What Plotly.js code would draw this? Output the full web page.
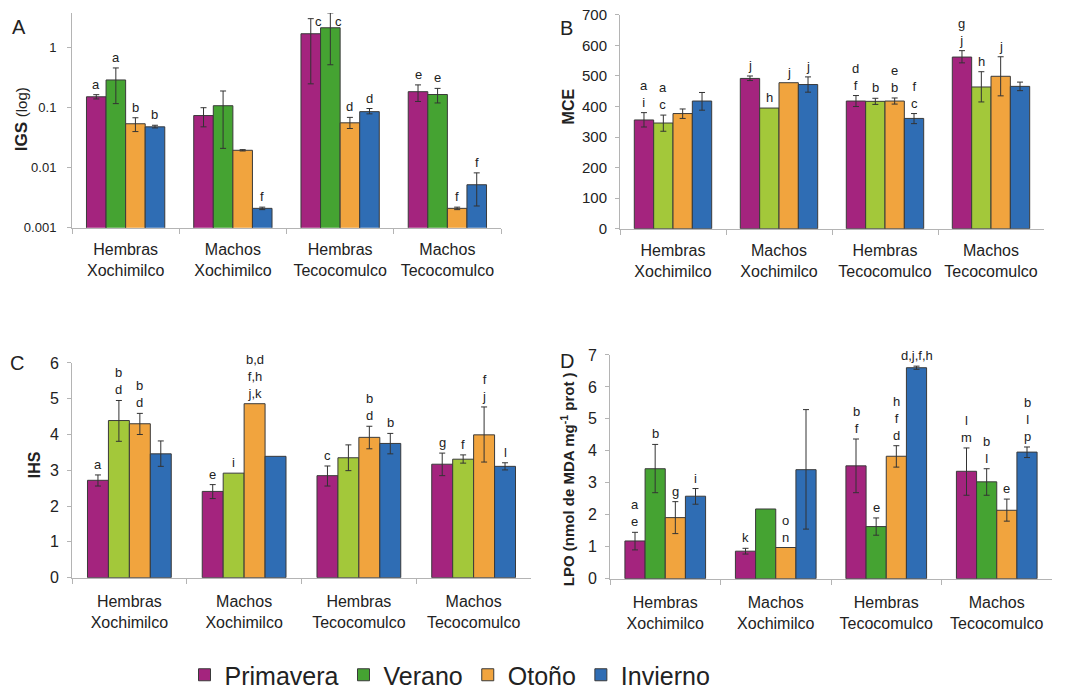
<!DOCTYPE html>
<html><head><meta charset="utf-8">
<script src="https://cdn.plot.ly/plotly-3.0.1.min.js"></script>
<style>html,body{margin:0;padding:0;background:#fff}#chart{width:1067px;height:698px}</style>
</head><body><div id="chart"></div>
<script>
const categories = ['Hembras<br>Xochimilco', 'Machos<br>Xochimilco', 'Hembras<br>Tecocomulco', 'Machos<br>Tecocomulco'];
const seasons = ['Primavera', 'Verano', 'Otoño', 'Invierno'];

// Panel A – IGS (log)
const igsPrimavera   = [0.152, 0.074, 1.71, 0.185];
const igsPrimaveraHi = [0.165, 0.100, 3.05, 0.240];
const igsPrimaveraLo = [0.140, 0.048, 0.25, 0.127];
const igsVerano      = [0.29, 0.108, 2.15, 0.166];
const igsVeranoHi    = [0.46, 0.19, 3.8, 0.21];
const igsVeranoLo    = [0.117, 0.021, 0.52, 0.12];
const igsOtono       = [0.054, 0.0195, 0.056, 0.0021];
const igsOtonoHi     = [0.068, 0.0200, 0.069, 0.0022];
const igsOtonoLo     = [0.040, 0.0190, 0.045, 0.0020];
const igsInvierno    = [0.048, 0.0021, 0.086, 0.0052];
const igsInviernoHi  = [0.051, 0.0022, 0.097, 0.0082];
const igsInviernoLo  = [0.046, 0.0020, 0.079, 0.0023];
const igsLetPrimavera = ['a', '', 'c', 'e'];
const igsLetVerano    = ['a', '', 'c', 'e'];
const igsLetOtono     = ['b', '', 'd', 'f'];
const igsLetInvierno  = ['b', 'f', 'd', 'f'];
const igsTicks = [0.001, 0.01, 0.1, 1];
const igsTickText = ['0.001', '0.01', '0.1', '1'];

// Panel B – MCE
const mcePrimavera   = [356, 492, 418, 562];
const mcePrimaveraHi = [380, 500, 436, 583];
const mcePrimaveraLo = [333, 485, 400, 543];
const mceVerano      = [346, 395, 417, 464];
const mceVeranoHi    = [372, null, 427, 514];
const mceVeranoLo    = [319, null, 407, 415];
const mceOtono       = [377, 478, 418, 499];
const mceOtonoHi     = [392, null, 428, 563];
const mceOtonoLo     = [361, null, 408, 435];
const mceInvierno    = [418, 472, 361, 466];
const mceInviernoHi  = [446, 497, 377, 480];
const mceInviernoLo  = [388, 447, 344, 452];
const mceLetPrimavera = ['a<br>i', 'j', 'd<br>f', 'g<br>j'];
const mceLetVerano    = ['a<br>c', 'h', 'b', 'h'];
const mceLetOtono     = ['', 'j', 'e<br>b', 'j'];
const mceLetInvierno  = ['', 'j', 'f<br>c', ''];

// Panel C – IHS
const ihsPrimavera   = [2.72, 2.41, 2.85, 3.17];
const ihsPrimaveraHi = [2.87, 2.60, 3.12, 3.48];
const ihsPrimaveraLo = [2.56, 2.21, 2.56, 2.85];
const ihsVerano      = [4.39, 2.92, 3.35, 3.31];
const ihsVeranoHi    = [4.95, null, 3.71, 3.43];
const ihsVeranoLo    = [3.81, null, 2.99, 3.20];
const ihsOtono       = [4.30, 4.86, 3.92, 3.99];
const ihsOtonoHi     = [4.59, null, 4.23, 4.77];
const ihsOtonoLo     = [4.00, null, 3.60, 3.23];
const ihsInvierno    = [3.46, 3.39, 3.75, 3.11];
const ihsInviernoHi  = [3.82, null, 4.03, 3.21];
const ihsInviernoLo  = [3.11, null, 3.46, 3.01];
const ihsLetPrimavera = ['a', 'e', 'c', 'g'];
const ihsLetVerano    = ['b<br>d', 'i', '', 'f'];
const ihsLetOtono     = ['b<br>d', 'b,d<br>f,h<br>j,k', 'b<br>d', 'f<br>j'];
const ihsLetInvierno  = ['', '', 'b', 'l'];

// Panel D – LPO
const lpoPrimavera   = [1.18, 0.86, 3.53, 3.36];
const lpoPrimaveraHi = [1.45, 0.95, 4.37, 4.09];
const lpoPrimaveraLo = [0.90, 0.77, 2.69, 2.61];
const lpoVerano      = [3.44, 2.18, 1.63, 3.03];
const lpoVeranoHi    = [4.20, null, 1.90, 3.44];
const lpoVeranoLo    = [2.69, null, 1.36, 2.61];
const lpoOtono       = [1.91, 0.975, 3.83, 2.14];
const lpoOtonoHi     = [2.41, null, 4.16, 2.49];
const lpoOtonoLo     = [1.41, null, 3.49, 1.80];
const lpoInvierno    = [2.58, 3.41, 6.60, 3.96];
const lpoInviernoHi  = [2.82, 5.29, 6.65, 4.12];
const lpoInviernoLo  = [2.33, 1.55, 6.55, 3.79];
const lpoLetPrimavera = ['a<br>e', 'k', 'b<br>f', 'l<br>m'];
const lpoLetVerano    = ['b', '', 'e', 'b<br>l'];
const lpoLetOtono     = ['g', 'o<br>n', 'h<br>f<br>d', 'e'];
const lpoLetInvierno  = ['i', '', 'd,j,f,h', 'b<br>l<br>p'];

// ---------- styling ----------
const FONT = 'Liberation Sans, Arial, sans-serif';
const TXT = '#222';
const AXC = '#b4b4b4';
const colMagenta = '#a4247e';
const colGreen = '#45a332';
const colLightGreen = '#a3c83a';
const colOrange = '#f1a43e';
const colBlue = '#2f6db4';
const BARGAP = 0.27;
const IGS_TOP = 0.58; // log10 of the top of panel A's axis

const traces = [];
const annotations = [];

function addPanel(series, colors, xa, ya, isLog, showLegend) {
  const n = series.length;
  const groupW = 1 - BARGAP;
  series.forEach((s, i) => {
    const plus = s.v.map((v, k) => s.hi[k] == null ? NaN : s.hi[k] - v);
    const minus = s.v.map((v, k) => s.lo[k] == null ? NaN : v - s.lo[k]);
    traces.push({
      type: 'bar', name: seasons[i], x: categories, y: s.v,
      xaxis: xa, yaxis: ya, showlegend: showLegend, legendgroup: seasons[i],
      marker: {color: colors[i], line: {color: '#3a3a3a', width: 1}},
      error_y: {type: 'data', symmetric: false, array: plus, arrayminus: minus,
                color: '#333', thickness: 1, width: 3},
      hoverinfo: 'x+y+name'
    });
    const off = -groupW / 2 + (i + 0.5) * groupW / n;
    s.let.forEach((t, k) => {
      if (!t) return;
      const top = Math.max(s.v[k], s.hi[k] == null ? s.v[k] : s.hi[k]);
      let y = isLog ? Math.log10(top) : top;
      const ann = {
        xref: xa, yref: ya, x: k + off, y: y,
        text: t, showarrow: false, yanchor: 'bottom', xanchor: 'center', yshift: 1,
        font: {family: FONT, size: 13, color: TXT}
      };
      if (isLog && y > IGS_TOP - 0.25) {
        // no room above the error bar: put the letter beside its top
        ann.y = IGS_TOP; ann.yanchor = 'top'; ann.yshift = 1; ann.xshift = 8;
      }
      annotations.push(ann);
    });
  });
}

addPanel([
  {v: igsPrimavera, hi: igsPrimaveraHi, lo: igsPrimaveraLo, let: igsLetPrimavera},
  {v: igsVerano, hi: igsVeranoHi, lo: igsVeranoLo, let: igsLetVerano},
  {v: igsOtono, hi: igsOtonoHi, lo: igsOtonoLo, let: igsLetOtono},
  {v: igsInvierno, hi: igsInviernoHi, lo: igsInviernoLo, let: igsLetInvierno}
], [colMagenta, colGreen, colOrange, colBlue], 'x', 'y', true, true);

addPanel([
  {v: mcePrimavera, hi: mcePrimaveraHi, lo: mcePrimaveraLo, let: mceLetPrimavera},
  {v: mceVerano, hi: mceVeranoHi, lo: mceVeranoLo, let: mceLetVerano},
  {v: mceOtono, hi: mceOtonoHi, lo: mceOtonoLo, let: mceLetOtono},
  {v: mceInvierno, hi: mceInviernoHi, lo: mceInviernoLo, let: mceLetInvierno}
], [colMagenta, colLightGreen, colOrange, colBlue], 'x2', 'y2', false, false);

addPanel([
  {v: ihsPrimavera, hi: ihsPrimaveraHi, lo: ihsPrimaveraLo, let: ihsLetPrimavera},
  {v: ihsVerano, hi: ihsVeranoHi, lo: ihsVeranoLo, let: ihsLetVerano},
  {v: ihsOtono, hi: ihsOtonoHi, lo: ihsOtonoLo, let: ihsLetOtono},
  {v: ihsInvierno, hi: ihsInviernoHi, lo: ihsInviernoLo, let: ihsLetInvierno}
], [colMagenta, colLightGreen, colOrange, colBlue], 'x3', 'y3', false, false);

addPanel([
  {v: lpoPrimavera, hi: lpoPrimaveraHi, lo: lpoPrimaveraLo, let: lpoLetPrimavera},
  {v: lpoVerano, hi: lpoVeranoHi, lo: lpoVeranoLo, let: lpoLetVerano},
  {v: lpoOtono, hi: lpoOtonoHi, lo: lpoOtonoLo, let: lpoLetOtono},
  {v: lpoInvierno, hi: lpoInviernoHi, lo: lpoInviernoLo, let: lpoLetInvierno}
], [colMagenta, colGreen, colOrange, colBlue], 'x4', 'y4', false, false);

const W = 1067, H = 698;
function dx(a, b) { return [a / W, b / W]; }
function dy(bottom, top) { return [1 - bottom / H, 1 - top / H]; }

function xAxis(domain, anchor, standoff) {
  return {domain: domain, anchor: anchor, type: 'category', showline: true, linecolor: AXC, linewidth: 1,
    ticks: 'outside', tickson: 'boundaries', ticklen: 5, tickcolor: AXC, showgrid: false, zeroline: false,
    ticklabelstandoff: standoff,
    tickfont: {family: FONT, size: 16, color: TXT}, fixedrange: true};
}
function yAxis(domain, anchor, extra) {
  return Object.assign({domain: domain, anchor: anchor, showline: true, linecolor: AXC, linewidth: 1,
    ticks: 'outside', ticklen: 4, tickcolor: AXC, showgrid: false, zeroline: false,
    ticklabelstandoff: 5,
    tickfont: {family: FONT, size: 15, color: TXT}, fixedrange: true}, extra);
}

function paperText(x, y, text, size, angle) {
  annotations.push({xref: 'paper', yref: 'paper', x: x / W, y: 1 - y / H, text: text, showarrow: false,
    xanchor: 'center', yanchor: 'middle', textangle: angle || 0,
    font: {family: FONT, size: size, color: TXT}});
}
paperText(19, 27, 'A', 20);
paperText(566, 28, 'B', 20);
paperText(17, 365, 'C', 20);
paperText(567, 363, 'D', 20);
paperText(21, 120, '<b>IGS</b> <span style="font-size:15px">(log)</span>', 17, -90);
paperText(568, 107, '<b>MCE</b>', 16, -90);
paperText(34, 468, '<b>IHS</b>', 16, -90);
paperText(567, 482, '<b>LPO (nmol de MDA mg<sup>-1</sup> prot )</b>', 15, -90);

const layout = {
  width: W, height: H, margin: {l: 0, r: 0, t: 0, b: 0},
  paper_bgcolor: '#fff', plot_bgcolor: 'rgba(0,0,0,0)',
  barmode: 'group', bargap: BARGAP, bargroupgap: 0,
  font: {family: FONT, color: TXT},
  xaxis: xAxis(dx(72, 501), 'y', 7),
  yaxis: yAxis(dy(229, 13), 'x', {type: 'log', range: [-3, IGS_TOP], tickvals: igsTicks, ticktext: igsTickText,
    ticklabelstandoff: 8, tickfont: {family: FONT, size: 13, color: TXT}}),
  xaxis2: xAxis(dx(620, 1044), 'y2', 7),
  yaxis2: yAxis(dy(230, 15), 'x2', {range: [0, 700], dtick: 100}),
  xaxis3: xAxis(dx(72, 531), 'y3', 9),
  yaxis3: yAxis(dy(581, 365), 'x3', {range: [0, 6], dtick: 1, tickfont: {family: FONT, size: 16, color: TXT}}),
  xaxis4: xAxis(dx(610, 1052), 'y4', 9),
  yaxis4: yAxis(dy(582, 357), 'x4', {range: [0, 7], dtick: 1, tickfont: {family: FONT, size: 16, color: TXT}}),
  showlegend: true,
  legend: {orientation: 'h', x: 450 / W, xanchor: 'center', y: 1 - 679 / H, yanchor: 'middle',
    font: {family: FONT, size: 25, color: TXT},
    itemclick: false, itemdoubleclick: false},
  annotations: annotations
};

Plotly.newPlot('chart', traces, layout, {displayModeBar: false, staticPlot: true});
</script>
</body></html>
